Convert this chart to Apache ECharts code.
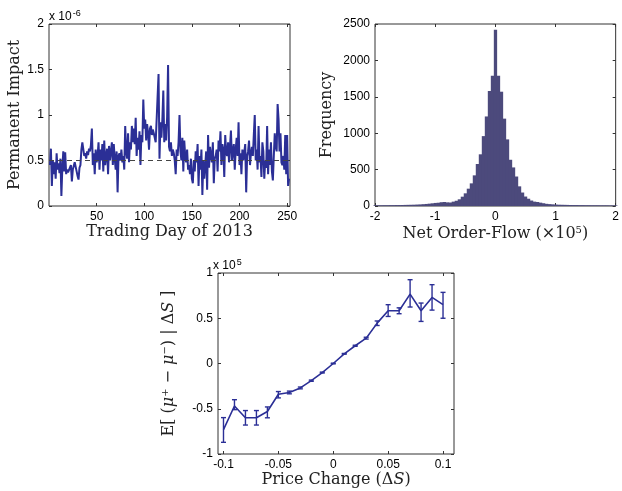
<!DOCTYPE html>
<html>
<head>
<meta charset="utf-8">
<script src="https://cdn.jsdelivr.net/npm/echarts@6/dist/echarts.min.js"></script>
<style>
  html, body { margin: 0; padding: 0; background: #fff; }
  #chart { width: 622px; height: 491px; }
</style>
</head>
<body>
<div id="chart"></div>
<script>
// permanent impact per trading day (x 1e-6)
var impact = [
  0.45, 0.63, 0.22, 0.50, 0.35, 0.48, 0.30, 0.58, 0.40, 0.47,
  0.36, 0.52, 0.11, 0.42, 0.60, 0.38, 0.59, 0.35, 0.40, 0.37,
  0.38, 0.36, 0.45, 0.27, 0.40, 0.42, 0.48, 0.50, 0.38, 0.33,
  0.29, 0.42, 0.45, 0.62, 0.70, 0.68, 0.55, 0.58, 0.52, 0.60,
  0.56, 0.63, 0.60, 0.67, 0.85, 0.45, 0.58, 0.35, 0.62, 0.48,
  0.55, 0.70, 0.40, 0.62, 0.50, 0.68, 0.38, 0.72, 0.45, 0.55,
  0.63, 0.35, 0.66, 0.50, 0.60, 0.70, 0.45, 0.68, 0.52, 0.40,
  0.60, 0.15, 0.55, 0.58, 0.50, 0.62, 0.48, 0.55, 0.40, 0.88,
  0.60, 0.52, 0.80, 0.48, 0.70, 0.62, 0.88, 0.70, 0.85, 0.68,
  0.97, 0.55, 0.75, 0.62, 0.82, 0.45, 0.78, 0.70, 1.17, 0.85,
  0.95, 0.72, 0.90, 0.80, 0.62, 0.85, 0.88, 0.78, 0.84, 0.80,
  0.75, 0.70, 0.68, 0.72, 1.45, 0.52, 0.92, 0.75, 0.95, 1.27,
  0.70, 0.90, 0.72, 0.98, 1.55, 0.65, 0.60, 0.70, 0.55, 0.62,
  0.58, 0.50, 0.35, 0.62, 0.55, 0.70, 1.00, 0.60, 0.50, 0.75,
  0.38, 0.72, 0.55, 0.48, 0.62, 0.40, 0.45, 0.35, 0.52, 0.30,
  0.25, 0.50, 0.38, 0.60, 0.48, 0.68, 0.22, 0.55, 0.40, 0.62,
  0.12, 0.50, 0.30, 0.45, 0.60, 0.18, 0.78, 0.42, 0.65, 0.55,
  0.48, 0.70, 0.25, 0.52, 0.55, 0.62, 0.38, 0.72, 0.60, 0.82,
  0.45, 0.68, 0.62, 0.32, 0.78, 0.58, 0.55, 0.70, 0.48, 0.65,
  0.83, 0.50, 0.60, 0.68, 0.40, 0.62, 0.75, 0.55, 0.92, 0.45,
  0.58, 0.35, 0.62, 0.50, 0.48, 0.68, 0.15, 0.55, 0.60, 0.72,
  0.45, 0.58, 0.65, 0.55, 0.78, 1.00, 0.50, 0.62, 0.40, 0.88,
  0.48, 0.55, 0.32, 0.70, 0.60, 0.30, 0.50, 0.42, 0.88, 0.35,
  0.62, 0.45, 0.70, 0.38, 0.28, 0.55, 0.80, 0.65, 0.60, 1.12,
  0.95, 0.60, 0.80, 0.48, 0.45, 0.55, 0.40, 0.78, 0.35, 0.78,
  0.22, 0.30
];
var impactMean = 0.5;
var dayTicks = [50, 100, 150, 200, 250];
var impactTicks = [0, 0.5, 1, 1.5, 2];

// histogram of net order-flow (x 1e5), bins of 0.05 from -2 to 2
var binStart = -2;
var binWidth = 0.05;
var freq = [
  10, 10, 10, 11, 11, 12, 12, 13, 13, 14,
  15, 16, 17, 18, 20, 22, 25, 28, 32, 37,
  42, 45, 52, 55, 50, 48, 60, 72, 92, 128,
  174, 238, 311, 421, 577, 710, 960, 1230, 1580, 1790,
  2420,
  1790, 1570, 1200, 915, 635, 530, 405, 270, 185, 130,
  100, 75, 60, 55, 46, 38, 30, 26, 23, 20,
  18, 17, 16, 15, 14, 13, 13, 12, 12, 11,
  11, 10, 10, 10, 9, 9, 9, 8, 8, 8
];
var flowTicks = [-2, -1, 0, 1, 2];
var freqTicks = [0, 500, 1000, 1500, 2000, 2500];

// conditional expectation vs price change (x 1e5)
var priceChange = [-0.1, -0.09, -0.08, -0.07, -0.06, -0.05, -0.04, -0.03, -0.02, -0.01,
  0, 0.01, 0.02, 0.03, 0.04, 0.05, 0.06, 0.07, 0.08, 0.09, 0.1];
var meanFlow = [-0.73, -0.47, -0.60, -0.60, -0.53, -0.34, -0.32, -0.27, -0.19, -0.10,
  0.0, 0.107, 0.196, 0.28, 0.446, 0.583, 0.583, 0.767, 0.583, 0.73, 0.65];
var errLow = [-0.871, -0.51, -0.68, -0.68, -0.60, -0.38, -0.335, -0.28, -0.197, -0.105,
  -0.004, 0.103, 0.19, 0.27, 0.42, 0.52, 0.55, 0.624, 0.465, 0.59, 0.50];
var errHigh = [-0.598, -0.40, -0.52, -0.52, -0.48, -0.31, -0.305, -0.26, -0.183, -0.095,
  0.004, 0.111, 0.202, 0.29, 0.47, 0.65, 0.615, 0.926, 0.668, 0.871, 0.786];
var priceTicks = [-0.1, -0.05, 0, 0.05, 0.1];
var flowMeanTicks = [-1, -0.5, 0, 0.5, 1];

var lineColor = '#2b2f96';
var barColor = '#4c4a7c';
var axisColor = '#333';
var sansFont = 'Liberation Sans';
var serifFont = 'DejaVu Serif';

function valueAxis(opts) {
  var ticks = opts.ticks;
  var ax = {
    type: 'value',
    gridIndex: opts.grid,
    min: opts.min,
    max: opts.max,
    position: opts.position,
    splitLine: { show: false },
    axisLine: { show: false, onZero: false },
    axisTick: {
      show: true, inside: true, length: 3,
      lineStyle: { color: axisColor },
      customValues: ticks
    },
    axisLabel: {
      show: !opts.mirror,
      customValues: ticks,
      color: '#000',
      fontFamily: sansFont,
      fontSize: 12,
      margin: 5,
      formatter: opts.formatter
    }
  };
  if (opts.name) {
    ax.name = opts.name;
    ax.nameLocation = 'middle';
    ax.nameGap = opts.nameGap;
    ax.nameTextStyle = {
      fontFamily: serifFont, fontSize: 16, color: '#222',
      rich: {
        i: { fontFamily: serifFont, fontSize: 16, fontStyle: 'italic', color: '#222' },
        sup: { fontFamily: serifFont, fontSize: 10, color: '#222', verticalAlign: 'top', padding: [0, 0, 8, 0] }
      }
    };
  }
  return ax;
}

function numFmt(v) {
  return String(Math.round(v * 1000) / 1000);
}

var chart = echarts.init(document.getElementById('chart'));

var option = {
  animation: false,
  grid: [
    { left: 49, top: 24, width: 241, height: 182, show: true, borderColor: axisColor, borderWidth: 1 },
    { left: 375, top: 24, width: 242, height: 182, show: true, borderColor: axisColor, borderWidth: 1 },
    { left: 218, top: 273, width: 236, height: 181, show: true, borderColor: axisColor, borderWidth: 1 }
  ],
  xAxis: [
    valueAxis({ grid: 0, min: 0, max: 253, ticks: dayTicks, position: 'bottom',
      name: 'Trading Day of 2013', nameGap: 18, formatter: numFmt }),
    valueAxis({ grid: 0, min: 0, max: 253, ticks: dayTicks, position: 'top', mirror: true }),
    valueAxis({ grid: 1, min: -2, max: 2, ticks: flowTicks, position: 'bottom',
      name: 'Net Order-Flow (×10{sup|5})', nameGap: 19, formatter: numFmt }),
    valueAxis({ grid: 1, min: -2, max: 2, ticks: flowTicks, position: 'top', mirror: true }),
    valueAxis({ grid: 2, min: -0.105, max: 0.11, ticks: priceTicks, position: 'bottom',
      name: 'Price Change (Δ{i|S})', nameGap: 18, formatter: numFmt }),
    valueAxis({ grid: 2, min: -0.105, max: 0.11, ticks: priceTicks, position: 'top', mirror: true })
  ],
  yAxis: [
    valueAxis({ grid: 0, min: 0, max: 2, ticks: impactTicks, position: 'left',
      name: 'Permanent Impact', nameGap: 26, formatter: numFmt }),
    valueAxis({ grid: 0, min: 0, max: 2, ticks: impactTicks, position: 'right', mirror: true }),
    valueAxis({ grid: 1, min: 0, max: 2500, ticks: freqTicks, position: 'left',
      name: 'Frequency', nameGap: 40, formatter: numFmt }),
    valueAxis({ grid: 1, min: 0, max: 2500, ticks: freqTicks, position: 'right', mirror: true }),
    valueAxis({ grid: 2, min: -1, max: 1, ticks: flowMeanTicks, position: 'left',
      name: 'E[ ({i|μ}{sup|+} − {i|μ}{sup|−}) | Δ{i|S} ]', nameGap: 40, formatter: numFmt }),
    valueAxis({ grid: 2, min: -1, max: 1, ticks: flowMeanTicks, position: 'right', mirror: true })
  ],
  graphic: [
    {
      type: 'text', left: 49, top: 9,
      style: {
        text: 'x 10{s|-6}', fill: '#000', font: '12px "Liberation Sans"',
        rich: { s: { fontSize: 9, fontFamily: sansFont, fill: '#000', verticalAlign: 'top', padding: [0, 0, 7, 1] } }
      }
    },
    {
      type: 'text', left: 213, top: 258,
      style: {
        text: 'x 10{s|5}', fill: '#000', font: '12px "Liberation Sans"',
        rich: { s: { fontSize: 9, fontFamily: sansFont, fill: '#000', verticalAlign: 'top', padding: [0, 0, 7, 1] } }
      }
    }
  ],
  series: [
    {
      type: 'line',
      xAxisIndex: 0, yAxisIndex: 0,
      data: impact.map(function (v, i) { return [i + 1, v]; }),
      symbol: 'none',
      lineStyle: { color: lineColor, width: 2 },
      markLine: {
        silent: true,
        symbol: 'none',
        label: { show: false },
        lineStyle: { color: '#444', type: [5, 4], width: 1 },
        data: [{ yAxis: impactMean }]
      }
    },
    {
      type: 'custom',
      xAxisIndex: 2, yAxisIndex: 2,
      data: freq.map(function (f, i) { return [binStart + i * binWidth, f]; }),
      renderItem: function (params, api) {
        var x = api.value(0);
        var y = api.value(1);
        var p0 = api.coord([x - binWidth / 2, y]);
        var p1 = api.coord([x + binWidth / 2, 0]);
        return {
          type: 'rect',
          shape: { x: p0[0], y: p0[1], width: p1[0] - p0[0] + 0.3, height: p1[1] - p0[1] },
          style: { fill: barColor }
        };
      }
    },
    {
      type: 'custom',
      xAxisIndex: 4, yAxisIndex: 4,
      data: priceChange.map(function (x, i) { return [x, errLow[i], errHigh[i]]; }),
      renderItem: function (params, api) {
        var lo = api.coord([api.value(0), api.value(1)]);
        var hi = api.coord([api.value(0), api.value(2)]);
        var cap = 2.5;
        var st = { stroke: lineColor, lineWidth: 1.4 };
        return {
          type: 'group',
          children: [
            { type: 'line', shape: { x1: lo[0], y1: lo[1], x2: hi[0], y2: hi[1] }, style: st },
            { type: 'line', shape: { x1: lo[0] - cap, y1: lo[1], x2: lo[0] + cap, y2: lo[1] }, style: st },
            { type: 'line', shape: { x1: hi[0] - cap, y1: hi[1], x2: hi[0] + cap, y2: hi[1] }, style: st }
          ]
        };
      }
    },
    {
      type: 'line',
      xAxisIndex: 4, yAxisIndex: 4,
      data: priceChange.map(function (x, i) { return [x, meanFlow[i]]; }),
      symbol: 'none',
      lineStyle: { color: lineColor, width: 1.6 }
    }
  ]
};

chart.setOption(option);
</script>
</body>
</html>
